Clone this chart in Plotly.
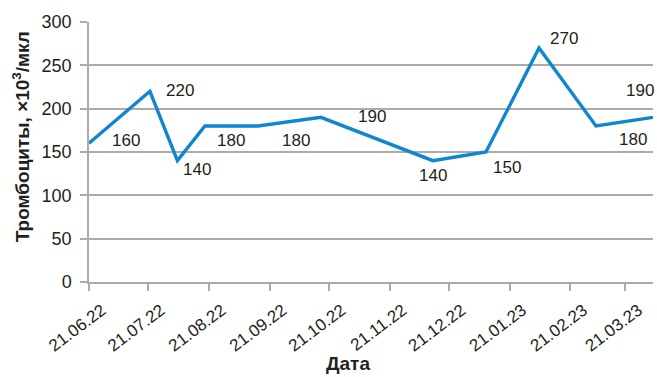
import plotly.graph_objects as go

dates = ["2022-06-21", "2022-07-22", "2022-08-05", "2022-08-19", "2022-09-15",
         "2022-10-17", "2022-12-13", "2023-01-09", "2023-02-05", "2023-03-06",
         "2023-04-04"]
platelets = [160, 220, 140, 180, 180, 190, 140, 150, 270, 180, 190]

tick_dates = ["2022-06-21", "2022-07-21", "2022-08-21", "2022-09-21", "2022-10-21",
              "2022-11-21", "2022-12-21", "2023-01-21", "2023-02-21", "2023-03-21"]
tick_labels = ["21.06.22", "21.07.22", "21.08.22", "21.09.22", "21.10.22",
               "21.11.22", "21.12.22", "21.01.23", "21.02.23", "21.03.23"]

# label placement offsets (pixels) for each data label
label_shift = [(37, 3), (30, 1), (20, -9), (26, -14), (38, -14),
               (51, 1), (0, -15), (21, -15), (25, 10), (37, -13), (-13, 27)]

font_family = "Liberation Sans, Arial, sans-serif"
line_color = "#0f86cf"
grid_color = "#ababab"
text_color = "#231f20"

fig = go.Figure()
fig.add_trace(go.Scatter(x=dates, y=platelets, mode="lines",
                         line=dict(color=line_color, width=3.4),
                         hoverinfo="skip", showlegend=False))

for d, v, (dx, dy) in zip(dates, platelets, label_shift):
    fig.add_annotation(x=d, y=v, text=str(v), showarrow=False,
                       xshift=dx, yshift=dy,
                       font=dict(family=font_family, size=17, color=text_color))

fig.add_annotation(xref="paper", yref="paper", x=(348 - 89) / 564, y=(281.7 - 363.5) / 260,
                   text="<b>Дата</b>", showarrow=False, xanchor="center", yanchor="middle",
                   font=dict(family=font_family, size=19, color=text_color))
fig.add_annotation(xref="paper", yref="paper", x=(21 - 89) / 564, y=(281.7 - 137) / 260,
                   text="<b>Тромбоциты, ×10<sup>3</sup>/мкл</b>", showarrow=False,
                   textangle=-90, xanchor="center", yanchor="middle",
                   font=dict(family=font_family, size=19, color=text_color))

fig.update_layout(
    width=657, height=377,
    margin=dict(l=89, r=4, t=22, b=95),
    paper_bgcolor="white", plot_bgcolor="white",
    font=dict(family=font_family, color=text_color),
    xaxis=dict(
        range=["2022-06-21", "2023-04-04"],
        tickmode="array", tickvals=tick_dates, ticktext=tick_labels,
        tickangle=-37, tickfont=dict(size=17, color=text_color),
        ticklabelshift=13, ticklabelstandoff=3,
        ticks="outside", ticklen=7, tickcolor=grid_color, tickwidth=1.5,
        showgrid=False, showline=True, linecolor=grid_color, linewidth=1.5,
        zeroline=False, fixedrange=True,
    ),
    yaxis=dict(
        range=[0, 300], tickvals=[0, 50, 100, 150, 200, 250, 300],
        tickfont=dict(size=18, color=text_color),
        ticklabelstandoff=5,
        ticks="outside", ticklen=7, tickcolor=grid_color, tickwidth=1.5,
        showgrid=True, gridcolor=grid_color, gridwidth=1.5,
        showline=True, linecolor=grid_color, linewidth=1.5,
        zeroline=False, fixedrange=True,
    ),
)

fig.write_html("out.html")
